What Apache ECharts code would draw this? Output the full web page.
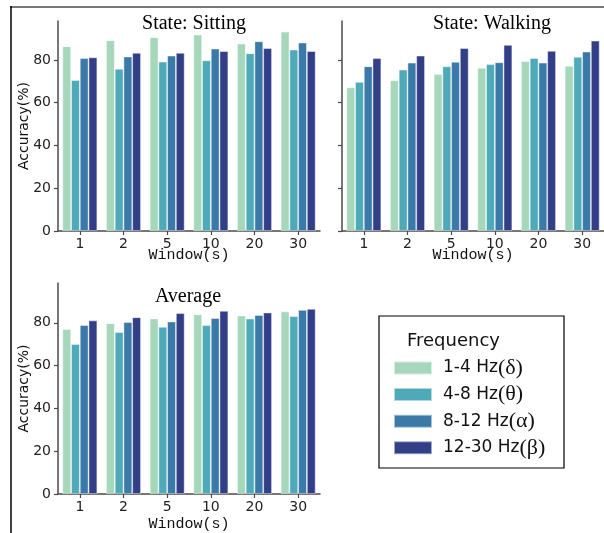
<!DOCTYPE html>
<html>
<head>
<meta charset="utf-8">
<script src="https://cdn.jsdelivr.net/npm/echarts@6/dist/echarts.min.js"></script>
<style>html,body{margin:0;padding:0;background:#fff}#c{width:604px;height:533px}</style>
</head>
<body>
<div id="c"></div>
<script>
// Data
const windows = ['1', '2', '5', '10', '20', '30'];
const bands = ['1-4 Hz(δ)', '4-8 Hz(θ)', '8-12 Hz(α)', '12-30 Hz(β)'];
const yTicks = [0, 20, 40, 60, 80];

const sittingDelta = [86.4, 89.2, 90.6, 91.8, 87.6, 93.2];
const sittingTheta = [70.6, 75.8, 79.2, 79.8, 83.1, 84.8];
const sittingAlpha = [80.8, 81.6, 82.0, 85.3, 88.7, 88.1];
const sittingBeta  = [81.2, 83.3, 83.3, 84.1, 85.5, 84.1];

const walkingDelta = [67.2, 70.5, 73.4, 76.3, 79.4, 77.2];
const walkingTheta = [69.7, 75.5, 77.0, 78.0, 80.9, 81.4];
const walkingAlpha = [77.0, 78.7, 79.1, 78.9, 78.7, 83.9];
const walkingBeta  = [80.8, 82.0, 85.5, 87.0, 84.2, 89.0];

const averageDelta = [77.0, 79.8, 82.0, 84.0, 83.4, 85.3];
const averageTheta = [70.1, 75.7, 78.1, 78.9, 82.0, 83.1];
const averageAlpha = [78.9, 80.3, 80.6, 82.2, 83.6, 86.0];
const averageBeta  = [81.1, 82.6, 84.5, 85.6, 84.8, 86.5];

const colors = ['#a6d7bb', '#4eaab8', '#3b79a8', '#323f87'];
const panels = [
  {title: 'State: Sitting', data: [sittingDelta, sittingTheta, sittingAlpha, sittingBeta], showY: true},
  {title: 'State: Walking', data: [walkingDelta, walkingTheta, walkingAlpha, walkingBeta], showY: false},
  {title: 'Average', data: [averageDelta, averageTheta, averageAlpha, averageBeta], showY: true}
];

const grids = [
  {left: 58, top: 21, width: 262, height: 210},
  {left: 342, top: 21, width: 262, height: 210},
  {left: 58, top: 283, width: 262, height: 212}
];
const yMax = [98.2, 98.2, 98.6];
const xNameGap = [17, 17, 23];
const titlePos = [{x: 189, y: 9}, {x: 487, y: 9}, {x: 183, y: 282}];

const axisColor = '#4a4a4a';
const sans = 'DejaVu Sans';

const xAxes = [], yAxes = [], series = [], titles = [];
panels.forEach((p, i) => {
  xAxes.push({
    type: 'category', gridIndex: i, data: windows,
    name: 'Window(s)', nameLocation: 'middle', nameGap: xNameGap[i], nameMoveOverlap: false,
    nameTextStyle: {fontFamily: 'Liberation Mono', fontSize: 15, color: '#111'},
    axisLine: {lineStyle: {color: axisColor, width: 1.5}},
    axisTick: {show: true, alignWithLabel: true, length: 4, lineStyle: {color: axisColor, width: 1.2}},
    axisLabel: {fontFamily: sans, fontSize: 14, color: '#222', margin: 6},
    splitLine: {show: false}
  });
  yAxes.push({
    type: 'value', gridIndex: i, min: 0, max: yMax[i],
    name: p.showY ? 'Accuracy(%)' : '', nameLocation: 'middle', nameGap: 27, nameRotate: 90, nameMoveOverlap: false,
    nameTextStyle: {fontFamily: sans, fontSize: 14, color: '#111'},
    axisLine: {show: true, lineStyle: {color: axisColor, width: 1.5}},
    axisTick: {show: true, length: 4, customValues: yTicks, lineStyle: {color: axisColor, width: 1.2}},
    axisLabel: {show: p.showY, customValues: yTicks, fontFamily: sans, fontSize: 14, color: '#222', margin: 7},
    splitLine: {show: false}
  });
  p.data.forEach((d, k) => {
    series.push({
      type: 'bar', name: bands[k], xAxisIndex: i, yAxisIndex: i, data: d,
      barGap: '0%', barCategoryGap: '20%',
      itemStyle: {color: colors[k], borderColor: 'rgba(255,255,255,0.55)', borderWidth: 0.8},
      emphasis: {disabled: true}
    });
  });
  titles.push({
    text: p.title, left: titlePos[i].x, top: titlePos[i].y, textAlign: 'center',
    textStyle: {fontFamily: 'Liberation Serif', fontSize: 20, fontWeight: 'normal', color: '#000'}
  });
});

const chart = echarts.init(document.getElementById('c'), null, {renderer: 'canvas'});
chart.setOption({
  animation: false,
  backgroundColor: '#fff',
  title: titles,
  grid: grids,
  xAxis: xAxes,
  yAxis: yAxes,
  series: series,
  legend: {
    data: bands, orient: 'vertical', left: 388, top: 352,
    itemWidth: 38, itemHeight: 13, itemGap: 4.6,
    icon: 'rect',
    formatter: function (name) {
      const idx = name.indexOf('(');
      return '{a|' + name.slice(0, idx) + '}{b|' + name.slice(idx) + '}';
    },
    textStyle: {
      padding: [0, 0, 0, 6],
      rich: {
        a: {fontFamily: sans, fontSize: 17, color: '#111'},
        b: {fontFamily: 'Liberation Serif', fontSize: 22, color: '#111'}
      }
    }
  },
  graphic: [
    {type: 'line', shape: {x1: 10, y1: 7, x2: 604, y2: 7}, style: {stroke: '#777', lineWidth: 2}, silent: true},
    {type: 'line', shape: {x1: 11, y1: 6, x2: 11, y2: 533}, style: {stroke: '#000', lineWidth: 1.5}, silent: true},
    {type: 'rect', shape: {x: 379, y: 316, width: 185, height: 152}, style: {fill: 'none', stroke: '#000', lineWidth: 1.2}, silent: true},
    {type: 'text', left: 407, top: 332, style: {text: 'Frequency', font: '18px "DejaVu Sans"', fill: '#111'}, silent: true}
  ]
});
</script>
</body>
</html>
